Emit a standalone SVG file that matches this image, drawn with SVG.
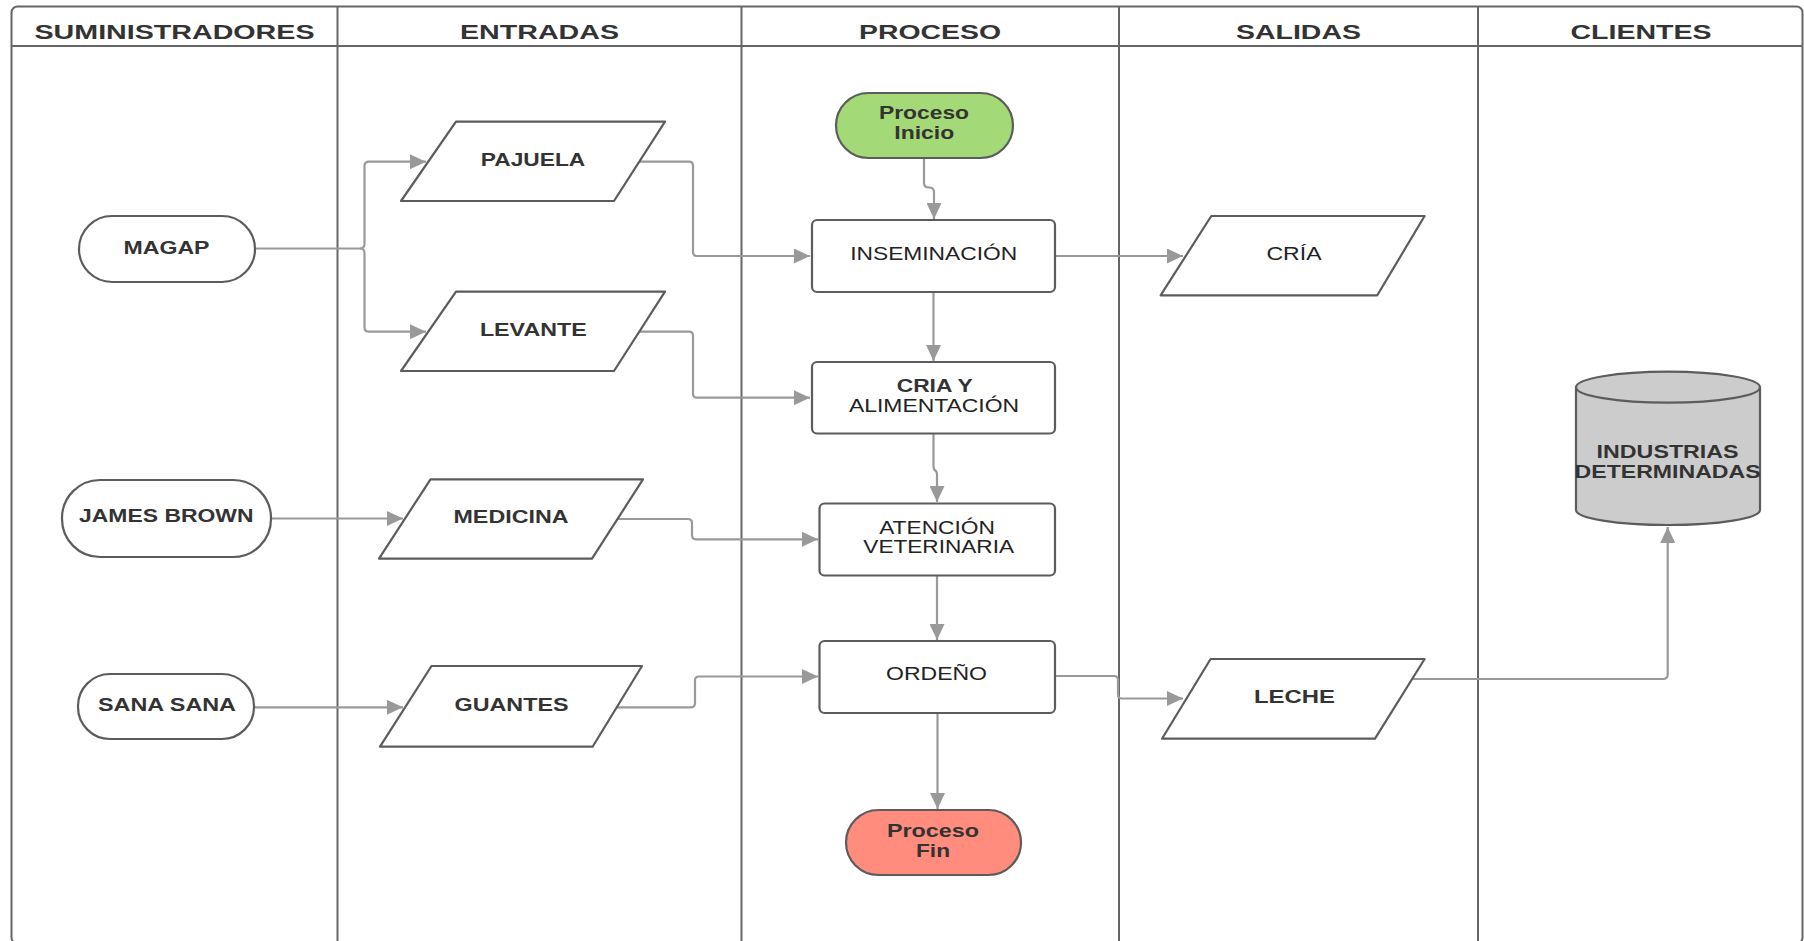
<svg xmlns="http://www.w3.org/2000/svg" width="1804" height="941" viewBox="0 0 1804 941">
<defs>
<style>
.frame{fill:none;stroke:#666;stroke-width:2}
.lane{stroke:#666;stroke-width:2}
.hdr{font-family:"Liberation Sans",Arial,sans-serif;font-weight:bold;font-size:21px;fill:#333;text-anchor:middle}
.shape{stroke:#5c5c5c;stroke-width:2.2;stroke-linejoin:round}
.b{font-family:"Liberation Sans",Arial,sans-serif;font-weight:bold;font-size:17.5px;fill:#333;text-anchor:middle}
.r{font-family:"Liberation Sans",Arial,sans-serif;font-size:18.5px;fill:#222;text-anchor:middle}
.con{fill:none;stroke:#999;stroke-width:2.2;marker-end:url(#arr)}
</style>
<marker id="arr" markerUnits="userSpaceOnUse" markerWidth="17" markerHeight="15" refX="16" refY="7.5" orient="auto">
<path d="M0,0 L16,7.5 L0,15 z" fill="#999"/>
</marker>
</defs>
<rect width="1804" height="941" fill="#fff"/>
<g id="lanes">
<rect class="frame" x="11.5" y="6.5" width="1791" height="937" rx="6"/>
<line class="lane" x1="11.5" y1="46" x2="1802.5" y2="46"/>
<line class="lane" x1="337.5" y1="6.5" x2="337.5" y2="941"/>
<line class="lane" x1="741.5" y1="6.5" x2="741.5" y2="941"/>
<line class="lane" x1="1119" y1="6.5" x2="1119" y2="941"/>
<line class="lane" x1="1478" y1="6.5" x2="1478" y2="941"/>
<text class="hdr" x="174.5" y="38.5" textLength="280" lengthAdjust="spacingAndGlyphs">SUMINISTRADORES</text>
<text class="hdr" x="539.5" y="38.5" textLength="159" lengthAdjust="spacingAndGlyphs">ENTRADAS</text>
<text class="hdr" x="930" y="38.5" textLength="142" lengthAdjust="spacingAndGlyphs">PROCESO</text>
<text class="hdr" x="1298.5" y="38.5" textLength="125" lengthAdjust="spacingAndGlyphs">SALIDAS</text>
<text class="hdr" x="1641" y="38.5" textLength="141" lengthAdjust="spacingAndGlyphs">CLIENTES</text>
</g>
<g id="connectors">
<path class="con" d="M255,248.5 H360 Q364.5,248.5 364.5,244 V166.2 Q364.5,161.7 369,161.7 H426"/>
<path class="con" d="M360,248.5 Q364.5,248.5 364.5,253 V327.2 Q364.5,331.7 369,331.7 H426"/>
<path class="con" d="M639,161.7 H689 Q693,161.7 693,166 V252 Q693,256 697,256 H810"/>
<path class="con" d="M639,331.7 H689 Q693,331.7 693,336 V393.7 Q693,397.7 697,397.7 H810"/>
<path class="con" d="M271,518.5 H403"/>
<path class="con" d="M617,519 H688 Q692,519 692,523 V535.3 Q692,539.3 696,539.3 H818"/>
<path class="con" d="M254,707.3 H403"/>
<path class="con" d="M617,707.3 H691 Q695,707.3 695,703 V680.5 Q695,676.5 699,676.5 H818"/>
<path class="con" d="M924,158 V183 Q924,187.5 929,187.5 Q934,187.5 934,192 V219"/>
<path class="con" d="M1055,256 H1183"/>
<path class="con" d="M933.5,292 V361"/>
<path class="con" d="M933.5,434 V466 Q933.5,469.5 935.3,470.5 Q937,471.5 937,475 V502"/>
<path class="con" d="M937,575 V640"/>
<path class="con" d="M937.5,713 V809"/>
<path class="con" d="M1055,676 H1114 Q1118,676 1118,680 V694.5 Q1118,698.5 1122,698.5 H1183"/>
<path class="con" d="M1413,679 H1663 Q1667.7,679 1667.7,674.5 V527"/>
</g>
<g id="magap">
<rect class="shape" x="79" y="216" width="176" height="66" rx="33" fill="#fff"/>
<text class="b" x="166.5" y="253.5" textLength="86" lengthAdjust="spacingAndGlyphs">MAGAP</text>
</g>
<g id="james-brown">
<rect class="shape" x="62" y="480" width="209" height="77" rx="38" fill="#fff"/>
<text class="b" x="166.3" y="522" textLength="174.5" lengthAdjust="spacingAndGlyphs">JAMES BROWN</text>
</g>
<g id="sana-sana">
<rect class="shape" x="78" y="674" width="176" height="65" rx="32" fill="#fff"/>
<text class="b" x="167" y="711" textLength="138" lengthAdjust="spacingAndGlyphs">SANA SANA</text>
</g>
<g id="pajuela">
<polygon class="shape" points="456,121.7 665,121.7 614,201 401,201" fill="#fff"/>
<text class="b" x="533" y="165.5" textLength="104.5" lengthAdjust="spacingAndGlyphs">PAJUELA</text>
</g>
<g id="levante">
<polygon class="shape" points="456,291.7 665,291.7 614,371 401,371" fill="#fff"/>
<text class="b" x="533.3" y="336" textLength="106.7" lengthAdjust="spacingAndGlyphs">LEVANTE</text>
</g>
<g id="medicina">
<polygon class="shape" points="430.5,479.3 643,479.3 592,558.7 379,558.7" fill="#fff"/>
<text class="b" x="511" y="523.3" textLength="115" lengthAdjust="spacingAndGlyphs">MEDICINA</text>
</g>
<g id="guantes">
<polygon class="shape" points="431.5,666 642,666 592.6,746.7 380,746.7" fill="#fff"/>
<text class="b" x="511.5" y="711" textLength="114" lengthAdjust="spacingAndGlyphs">GUANTES</text>
</g>
<g id="proceso-inicio">
<rect class="shape" x="836" y="93" width="177" height="65" rx="32.5" fill="#a3d977"/>
<text class="b" x="924" y="118.7" textLength="90" lengthAdjust="spacingAndGlyphs">Proceso</text>
<text class="b" x="924.3" y="139.3" textLength="60" lengthAdjust="spacingAndGlyphs">Inicio</text>
</g>
<g id="inseminacion">
<rect class="shape" x="812" y="220" width="243" height="72" rx="5" fill="#fff"/>
<text class="r" x="933.7" y="260" textLength="167" lengthAdjust="spacingAndGlyphs">INSEMINACIÓN</text>
</g>
<g id="cria-alimentacion">
<rect class="shape" x="812" y="362" width="243" height="71.5" rx="5" fill="#fff"/>
<text class="b" x="934.7" y="392" textLength="76" lengthAdjust="spacingAndGlyphs">CRIA Y</text>
<text class="r" x="934" y="411.7" textLength="170" lengthAdjust="spacingAndGlyphs">ALIMENTACIÓN</text>
</g>
<g id="atencion-veterinaria">
<rect class="shape" x="819.5" y="503.5" width="235.5" height="72" rx="5" fill="#fff"/>
<text class="r" x="937" y="533.7" textLength="115.7" lengthAdjust="spacingAndGlyphs">ATENCIÓN</text>
<text class="r" x="938.7" y="553.3" textLength="150.7" lengthAdjust="spacingAndGlyphs">VETERINARIA</text>
</g>
<g id="ordeno">
<rect class="shape" x="819.5" y="641" width="235.5" height="72" rx="5" fill="#fff"/>
<text class="r" x="936.5" y="680" textLength="101" lengthAdjust="spacingAndGlyphs">ORDEÑO</text>
</g>
<g id="proceso-fin">
<rect class="shape" x="846" y="810" width="175" height="65" rx="32.5" fill="#ff8c7c"/>
<text class="b" x="933" y="836.5" textLength="92" lengthAdjust="spacingAndGlyphs">Proceso</text>
<text class="b" x="933" y="856.7" textLength="34" lengthAdjust="spacingAndGlyphs">Fin</text>
</g>
<g id="cria">
<polygon class="shape" points="1211.3,216 1424.6,216 1377.3,295.3 1160.6,295.3" fill="#fff"/>
<text class="r" x="1294" y="260" textLength="55" lengthAdjust="spacingAndGlyphs">CRÍA</text>
</g>
<g id="leche">
<polygon class="shape" points="1210.6,659 1424.6,659 1375,738.7 1162,738.7" fill="#fff"/>
<text class="b" x="1294.5" y="703.3" textLength="81" lengthAdjust="spacingAndGlyphs">LECHE</text>
</g>
<g id="industrias-determinadas">
<path class="shape" d="M1576,387.2 V510 A92,15 0 0 0 1760,510 V387.2 A92,15.5 0 0 0 1576,387.2 Z" fill="#ccc"/>
<path class="shape" d="M1576,387.2 A92,15.5 0 0 0 1760,387.2" fill="none"/>
<text class="b" x="1667.6" y="457.7" textLength="142" lengthAdjust="spacingAndGlyphs">INDUSTRIAS</text>
<text class="b" x="1667.6" y="478.3" textLength="186" lengthAdjust="spacingAndGlyphs">DETERMINADAS</text>
</g>
</svg>
